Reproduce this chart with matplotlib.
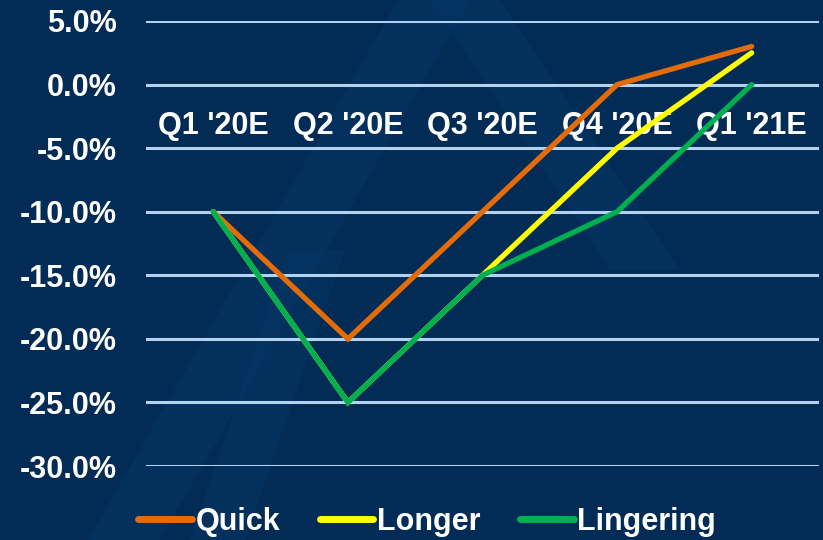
import matplotlib
matplotlib.use("Agg")
import matplotlib.pyplot as plt
from matplotlib.patches import Polygon
from matplotlib.ticker import FuncFormatter

quarters = ["Q1 '20E", "Q2 '20E", "Q3 '20E", "Q4 '20E", "Q1 '21E"]
quick = [-10.0, -20.0, -10.0, 0.0, 3.0]
longer = [-10.0, -25.0, -15.0, -5.0, 2.5]
lingering = [-10.0, -25.0, -15.0, -10.0, 0.0]

bg = '#022B55'
plt.rcParams['font.family'] = ['Liberation Sans', 'DejaVu Sans']
plt.rcParams['font.weight'] = 'bold'

fig = plt.figure(figsize=(8.23, 5.4), dpi=100, facecolor=bg)

# faint "A" logo in the background, on its own axes behind the chart
W, H = 823, 540
bgax = fig.add_axes([0, 0, 1, 1], zorder=0)
bgax.set_xlim(0, W)
bgax.set_ylim(H, 0)
bgax.axis('off')
shapes = [
    [(88, 540), (160, 540), (470, 0), (398, 0)],
    [(430, 0), (500, 0), (680, 270), (610, 270)],
    [(190, 540), (245, 540), (345, 250), (290, 250)],
]
for pts in shapes:
    bgax.add_patch(Polygon(pts, closed=True, facecolor='#07386A',
                           edgecolor='none', alpha=0.4))

ax = fig.add_axes([146 / W, 74 / H, (819 - 146) / W, (466 - 21) / H], zorder=1)
ax.set_facecolor('none')

x = range(len(quarters))
ax.plot(x, quick, color='#E36C09', lw=3.8, label='Quick',
        solid_capstyle='round', solid_joinstyle='miter', zorder=3, clip_on=False)
ax.plot(x, longer, color='#FFFF00', lw=3.8, label='Longer',
        solid_capstyle='round', solid_joinstyle='miter', zorder=4, clip_on=False)
ax.plot(x, lingering, color='#00B050', lw=3.8, label='Lingering',
        solid_capstyle='round', solid_joinstyle='miter', zorder=5, clip_on=False)

ax.set_xlim(-0.5, len(quarters) - 0.5)
ax.set_ylim(-30, 5)
ax.set_yticks(range(-30, 6, 5))
ax.yaxis.set_major_formatter(FuncFormatter(lambda v, p: f'{v:.1f}%'))
ax.grid(axis='y', color='#B4D2F0', lw=2.2, zorder=1)
ax.set_axisbelow(True)

ax.set_xticks(list(x))
ax.set_xticklabels(quarters)
ax.spines['bottom'].set_position(('data', 0))
for s in ax.spines.values():
    s.set_visible(False)
ax.tick_params(axis='x', length=0, pad=19, labelsize=22, labelcolor='white')
ax.tick_params(axis='y', length=0, pad=21, labelsize=22, labelcolor='white')

leg = fig.legend(loc='center', bbox_to_anchor=(0.519, 0.033), ncol=3,
                 frameon=False, fontsize=22, handlelength=1.75,
                 handletextpad=0.12, columnspacing=1.3)
for t in leg.get_texts():
    t.set_color('white')
for h in leg.legend_handles:
    h.set_linewidth(5)

fig.savefig('out.png', dpi=100, facecolor=bg)
